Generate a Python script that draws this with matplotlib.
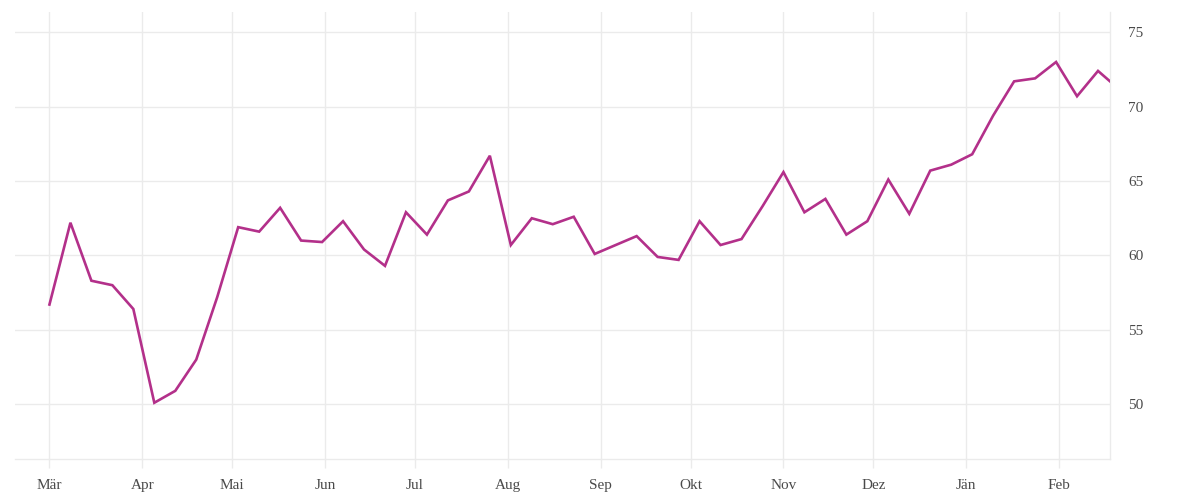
import numpy as np
import pandas as pd
import matplotlib
matplotlib.use("Agg")
import matplotlib.pyplot as plt
import matplotlib.dates as mdates

# weekly values (first point 1 March, last one 4 days after the previous)
dates = list(pd.date_range("2018-03-01", periods=51, freq="7D")) + [pd.Timestamp("2019-02-18")]
values = [56.7, 62.2, 58.3, 58.0, 56.4, 50.1, 50.9, 53.0, 57.2, 61.9,
          61.6, 63.2, 61.0, 60.9, 62.3, 60.4, 59.3, 62.9, 61.4, 63.7,
          64.3, 66.7, 60.7, 62.5, 62.1, 62.6, 60.1, 60.7, 61.3, 59.9,
          59.7, 62.3, 60.7, 61.1, 63.3, 65.6, 62.9, 63.8, 61.4, 62.3,
          65.1, 62.8, 65.7, 66.1, 66.8, 69.4, 71.7, 71.9, 73.0, 70.7,
          72.4, 71.7]

month_starts = pd.date_range("2018-03-01", "2019-02-01", freq="MS")
month_labels = ["Mär", "Apr", "Mai", "Jun", "Jul", "Aug", "Sep", "Okt", "Nov", "Dez", "Jän", "Feb"]
y_ticks = [50, 55, 60, 65, 70, 75]

grid_col = "#ebebeb"
line_col = "#b3308a"
text_col = "#4a4a4a"

plt.rcParams['font.family'] = ['Liberation Serif', 'DejaVu Serif']

fig = plt.figure(figsize=(12, 5), dpi=100)
ax = fig.add_axes([0.0125, 0.082, 0.9125, 0.894])

ax.plot(dates, values, color=line_col, linewidth=1.9, solid_joinstyle="miter", zorder=3)

ax.set_xlim(pd.Timestamp("2018-03-01") - pd.Timedelta(days=11.5), dates[-1])
ax.set_ylim(46.32, 76.36)

ax.set_xticks(month_starts)
ax.set_xticklabels(month_labels)
ax.set_yticks(y_ticks)
ax.yaxis.tick_right()

ax.grid(True, color=grid_col, linewidth=1.0)
ax.set_axisbelow(True)

for side in ["top", "left"]:
    ax.spines[side].set_visible(False)
for side in ["bottom", "right"]:
    ax.spines[side].set_color(grid_col)
    ax.spines[side].set_linewidth(1.0)

ax.tick_params(axis="x", colors=grid_col, length=6.5, width=1.0, pad=8,
               labelcolor=text_col, labelsize=11)
ax.tick_params(axis="y", length=0, pad=13, labelcolor=text_col, labelsize=11)

fig.savefig("out.png", dpi=100, facecolor="white")
